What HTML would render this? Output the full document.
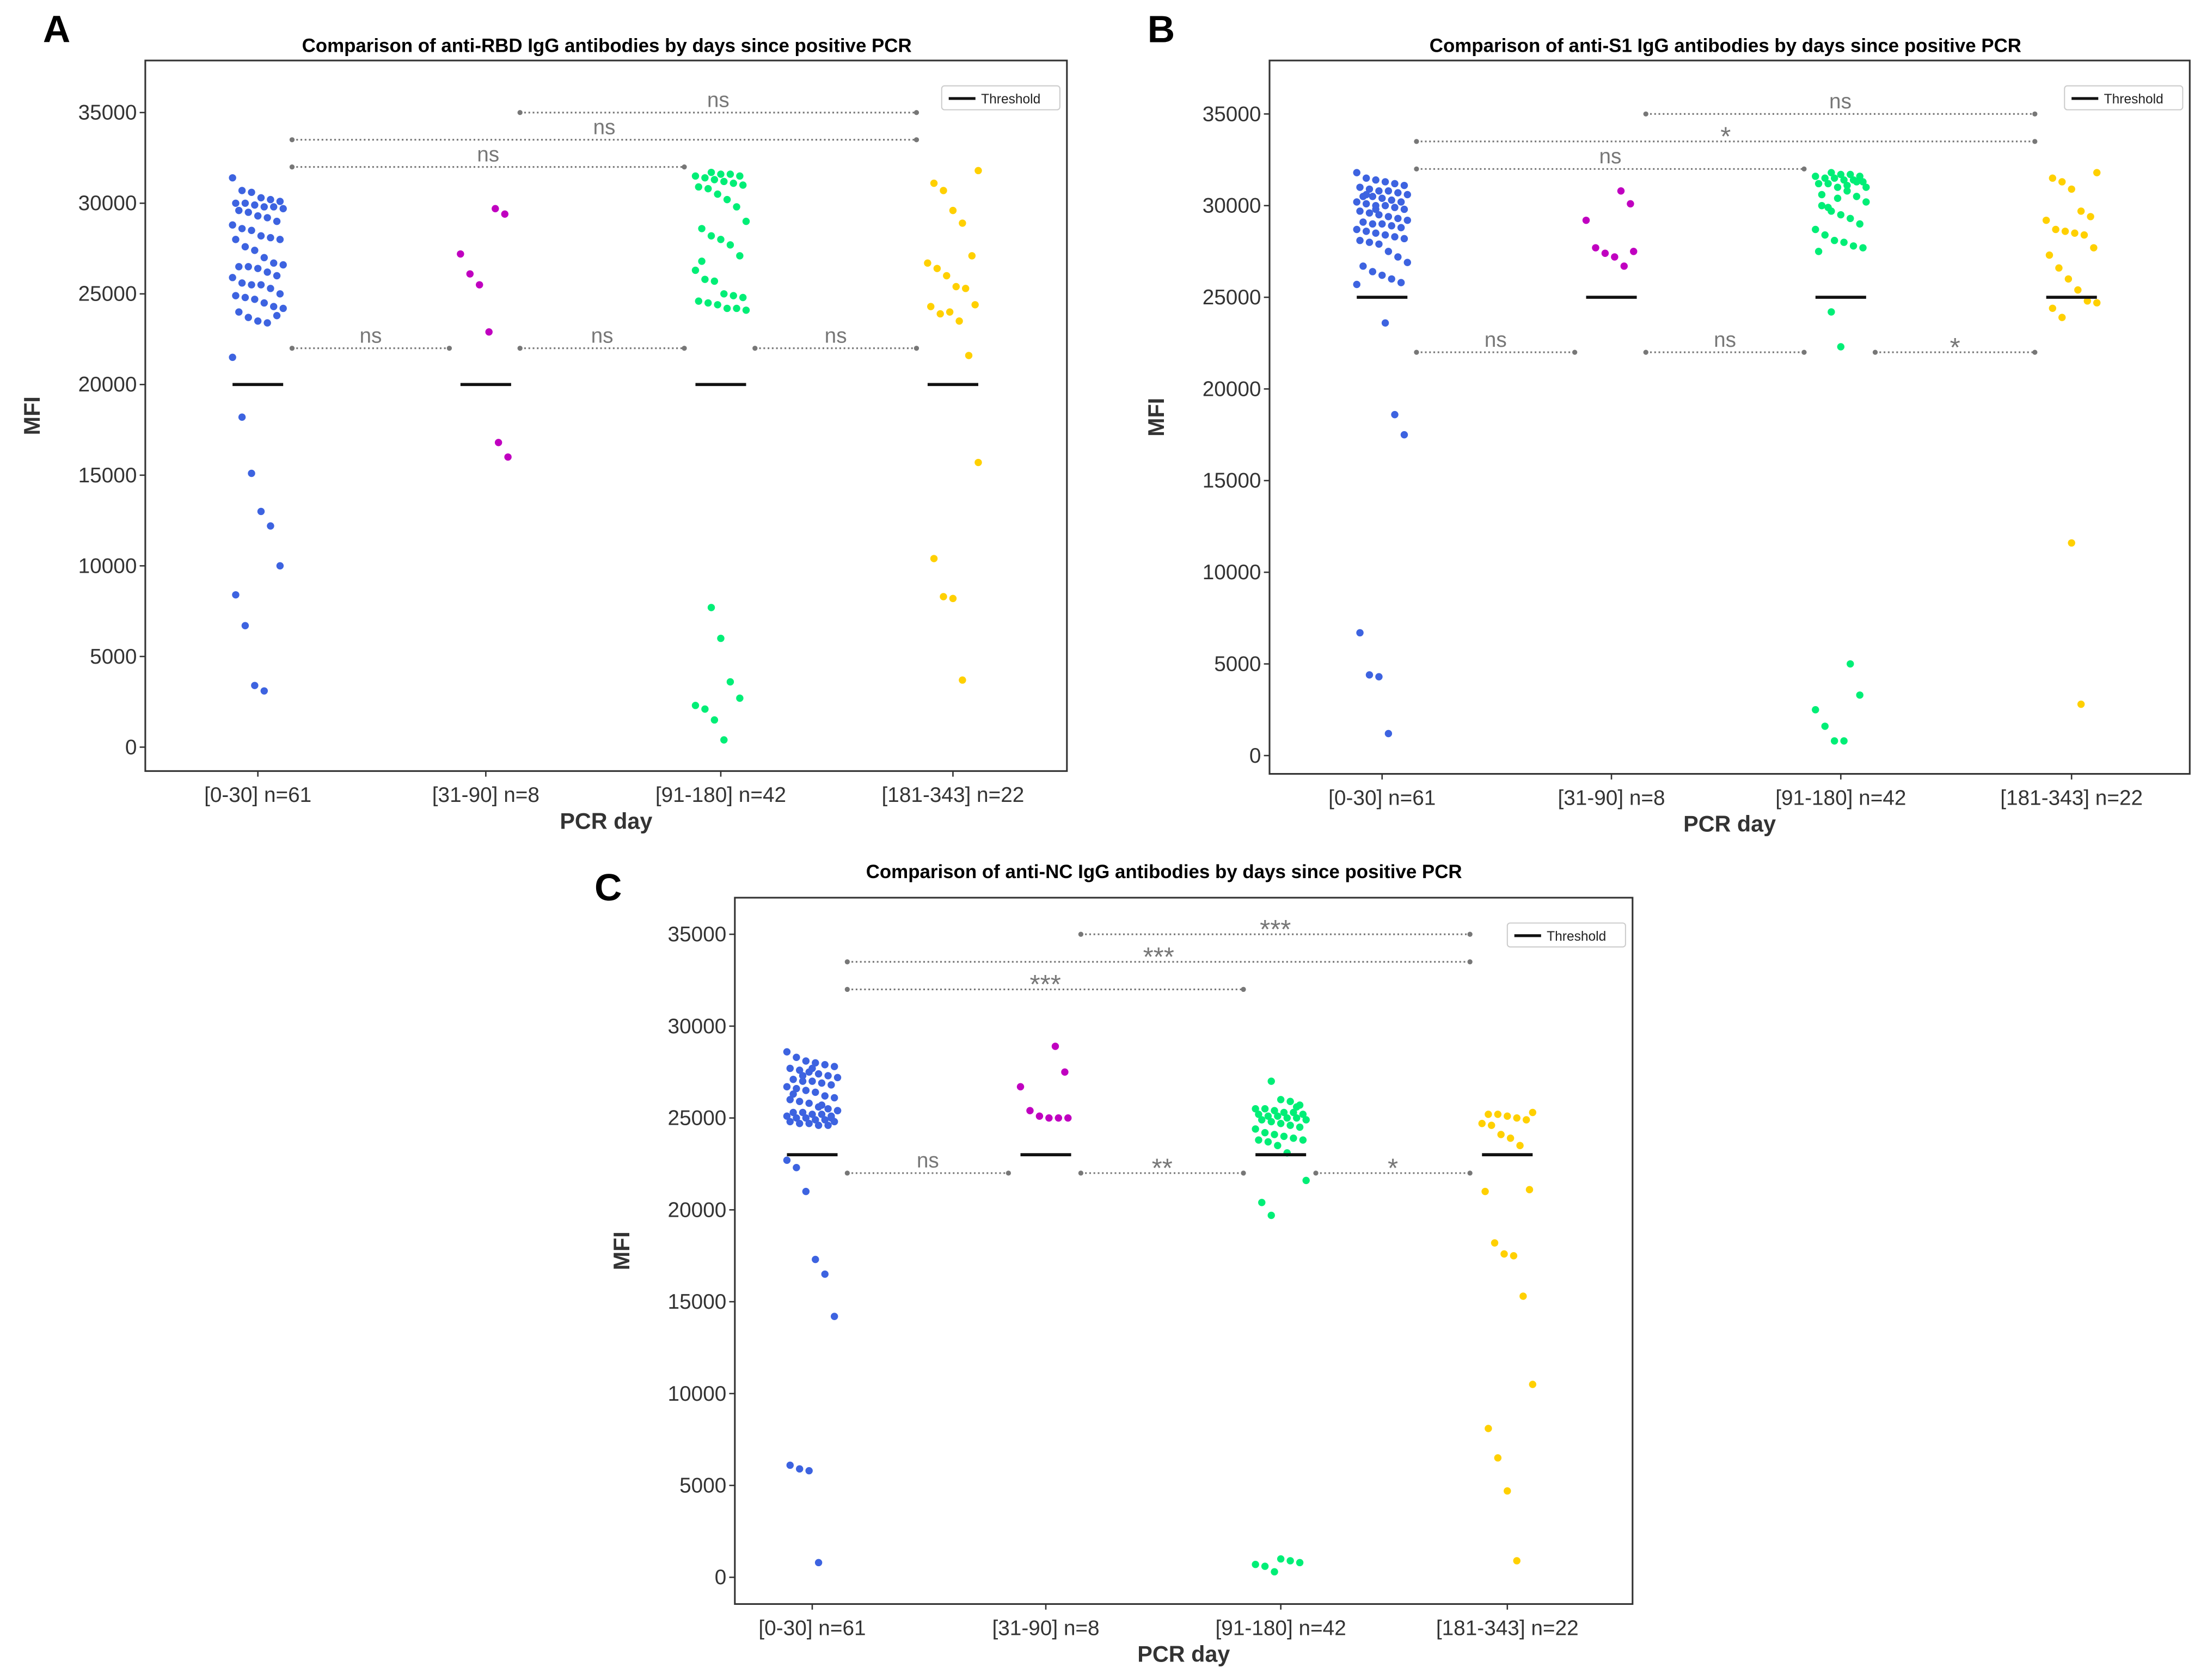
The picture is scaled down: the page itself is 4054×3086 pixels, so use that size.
<!DOCTYPE html>
<html><head><meta charset="utf-8"><style>
html,body{margin:0;padding:0;background:#fff;}
svg{display:block;}
text{font-family:"Liberation Sans",sans-serif;}
</style></head><body>
<svg id="fig" width="4054" height="3086" viewBox="0 0 1568 1194" xmlns="http://www.w3.org/2000/svg"></svg>
<script>
// ---------- DATA ----------
const categories = ["[0-30] n=61","[31-90] n=8","[91-180] n=42","[181-343] n=22"];
const yTicks = [0,5000,10000,15000,20000,25000,30000,35000];

const rbdThreshold = 20000;
const rbd0 = [31400,30700,30600,30300,30200,30100,30000,30000,29900,29800,29800,29700,29600,29500,29300,29200,29000,28800,28600,28500,28200,28100,28000,28000,27600,27400,27000,26700,26600,26500,26500,26400,26200,26000,25900,25600,25500,25500,25300,25000,24900,24800,24700,24500,24300,24200,24000,23700,23500,23400,23800,21500,18200,15100,13000,12200,10000,8400,6700,3400,3100];
const rbd1 = [29700,29400,27200,26100,25500,22900,16800,16000];
const rbd2 = [31700,31600,31600,31500,31500,31400,31300,31200,31100,31000,30900,30800,30500,30200,29800,29000,28600,28200,28000,27700,27100,26300,25800,25700,25000,24900,24800,24600,24500,24400,24200,24200,24100,26800,7700,6000,3600,2700,2300,2100,1500,400];
const rbd3 = [31800,31100,30700,29600,28900,27100,26700,26400,26000,25400,25300,24400,24300,23900,24000,23500,21600,15700,10400,8300,8200,3700];
const rbdSig = ["ns","ns","ns","ns","ns","ns"];

const s1Threshold = 25000;
const s10 = [31800,31500,31400,31300,31200,31100,31000,30900,30800,30800,30700,30600,30500,30500,30400,30300,30200,30200,30100,30000,30000,29900,29800,29700,29600,29500,29400,29300,29200,29100,29000,29000,28900,28800,28700,28600,28500,28400,28300,28200,28100,28000,27900,27500,27200,26900,26700,26400,26200,26000,25800,25700,30600,29800,23600,18600,17500,6700,4400,4300,1200];
const s11 = [30800,30100,29200,27700,27400,27200,26700,27500];
const s12 = [31800,31700,31700,31600,31600,31500,31500,31400,31400,31300,31200,31200,31000,30800,30500,30200,30000,29700,29500,29300,29000,28700,28400,28100,28000,27800,27700,27500,29900,30400,31100,31300,31000,30600,24200,22300,5000,3300,2500,1600,800,800];
const s13 = [31800,31500,31300,30900,29700,29400,29200,28700,28600,28500,28400,27700,27300,26600,26000,25400,24800,24700,24400,23900,11600,2800];
const s1Sig = ["ns","ns","*","ns","*","ns"];

const ncThreshold = 23000;
const nc0 = [28600,28300,28100,28000,27900,27800,27700,27600,27500,27400,27300,27200,27100,27000,27000,26900,26800,26700,26600,26500,26400,26200,26100,26000,25900,25800,25600,25500,25400,25300,25300,25200,25200,25100,25100,25000,25000,24900,24900,24800,24800,24700,24700,24600,24600,25400,26300,27300,27700,25700,25000,22700,22300,21000,17300,16500,14200,6100,5900,5800,800];
const nc1 = [28900,27500,26700,25400,25100,25000,25000,25000];
const nc2 = [27000,26000,25900,25700,25500,25500,25400,25300,25300,25200,25200,25100,25100,25000,25000,24900,24900,24800,24700,24600,24500,24400,24200,24100,24000,23900,23800,23800,23700,23500,23100,25600,21600,20400,19700,1000,900,800,700,600,300];
const nc3 = [25300,25200,25200,25100,25000,24900,24700,24600,24100,23900,23500,21100,21000,18200,17600,17500,15300,10500,8100,6500,4700,900];
const ncSig = ["ns","**","*","***","***","***"];

// ---------- DRAW ----------
const NS = "http://www.w3.org/2000/svg";
const svg = document.getElementById('fig');
const colors = ["#3d63e0","#c000c0","#00ee76","#ffd000"];
function mk(tag, attrs, parent){const e=document.createElementNS(NS,tag);for(const k in attrs)e.setAttribute(k,attrs[k]);(parent||svg).appendChild(e);return e;}

const panels = [
 {id:"rbd",letter:"A",lx:40,ly:30,title:"Comparison of anti-RBD IgG antibodies by days since positive PCR",tx:431,ty:37,
  L:103,R:758,T:43,B:548,y0:531,y35:80,cats:[183,345,512,677],data:[rbd0,rbd1,rbd2,rbd3],thr:rbdThreshold,sig:rbdSig},
 {id:"s1",letter:"B",lx:825,ly:30,title:"Comparison of anti-S1 IgG antibodies by days since positive PCR",tx:1226,ty:37,
  L:902,R:1556,T:43,B:550,y0:537,y35:81,cats:[982,1145,1308,1472],data:[s10,s11,s12,s13],thr:s1Threshold,sig:s1Sig},
 {id:"nc",letter:"C",lx:432,ly:640,title:"Comparison of anti-NC IgG antibodies by days since positive PCR",tx:827,ty:624,
  L:522,R:1160,T:638,B:1140,y0:1121,y35:664,cats:[577,743,910,1071],data:[nc0,nc1,nc2,nc3],thr:ncThreshold,sig:ncSig}
];
const pairs = [[0,1,22000],[1,2,22000],[2,3,22000],[0,2,32000],[0,3,33500],[1,3,35000]];

panels.forEach(p=>{
  const g = mk('g',{});
  
  
  const Y = v => p.y0 + (p.y35-p.y0)*v/35000;
  const sp = p.cats[1]-p.cats[0];
  const lt = mk('text',{x:p.lx,y:p.ly,'font-size':27,'font-weight':'bold','text-anchor':'middle'},g);
  lt.textContent=p.letter;
  
  
  const tt = mk('text',{x:p.tx,y:p.ty,'font-size':13.5,'font-weight':'bold','text-anchor':'middle'},g);
  tt.textContent=p.title;
  
  
  const fr = mk('rect',{x:p.L,y:p.T,width:p.R-p.L,height:p.B-p.T,fill:'none',stroke:'#333','stroke-width':1.2},g);
  
  
  yTicks.forEach(v=>{
    mk('line',{x1:p.L-4,x2:p.L,y1:Y(v),y2:Y(v),stroke:'#333','stroke-width':1},g);
    const t=mk('text',{x:p.L-6,y:Y(v)+5,'font-size':15,fill:'#333','text-anchor':'end'},g);
    t.textContent=v;
    
    
  });
  categories.forEach((c,i)=>{
    mk('line',{x1:p.cats[i],x2:p.cats[i],y1:p.B,y2:p.B+4,stroke:'#333','stroke-width':1},g);
    const t=mk('text',{x:p.cats[i],y:p.B+22,'font-size':15,fill:'#333','text-anchor':'middle'},g);
    t.textContent=c;
    
    
  });
  const xl=mk('text',{x:(p.L+p.R)/2,y:p.B+41,'font-size':16,'font-weight':'bold',fill:'#333','text-anchor':'middle'},g);
  xl.textContent='PCR day';
  
  
  const ym=(p.T+p.B)/2, yx=p.L-75;
  const yl=mk('text',{x:yx,y:ym,'font-size':16,'font-weight':'bold',fill:'#333','text-anchor':'middle',transform:`rotate(-90 ${yx} ${ym})`},g);
  yl.textContent='MFI';
  
  
  p.data.forEach((arr,ci)=>{
    arr.forEach((v,i)=>{
      const j = (((i*37+ci*11)%17)/16 - 0.5)*36;
      const c=mk('circle',{cx:p.cats[ci]+j,cy:Y(v),r:2.6,fill:colors[ci]},g);
      
      
    });
    const th=mk('line',{x1:p.cats[ci]-18,x2:p.cats[ci]+18,y1:Y(p.thr),y2:Y(p.thr),stroke:'#111','stroke-width':2.2},g);
    
    
  });
  pairs.forEach((pr,k)=>{
    const x1=p.cats[pr[0]]+0.15*sp, x2=p.cats[pr[1]]-0.16*sp, y=Y(pr[2]);
    const l=mk('line',{x1,x2,y1:y,y2:y,stroke:'#777','stroke-width':1.2,'stroke-dasharray':'1.2 1.8'},g);
    
    
    mk('circle',{cx:x1,cy:y,r:1.8,fill:'#777'},g);
    mk('circle',{cx:x2,cy:y,r:1.8,fill:'#777'},g);
    const s=p.sig[k];
    const star=s.indexOf('*')>=0;
    const t=mk('text',{x:(x1+x2)/2,y:star?y+3:y-4,'font-size':star?19:15,fill:'#777','text-anchor':'middle'},g);
    t.textContent=s;
    
    
  });
  const lg=mk('g',{},g);
  
  
  mk('rect',{x:p.R-89,y:p.T+18,width:84,height:17,rx:2,fill:'#fff',stroke:'#ccc','stroke-width':0.8},lg);
  mk('line',{x1:p.R-84,x2:p.R-65,y1:p.T+27,y2:p.T+27,stroke:'#111','stroke-width':2},lg);
  const lt2=mk('text',{x:p.R-61,y:p.T+30.5,'font-size':9.5,fill:'#222'},lg);
  lt2.textContent='Threshold';
  
  
});
</script>
</body></html>
